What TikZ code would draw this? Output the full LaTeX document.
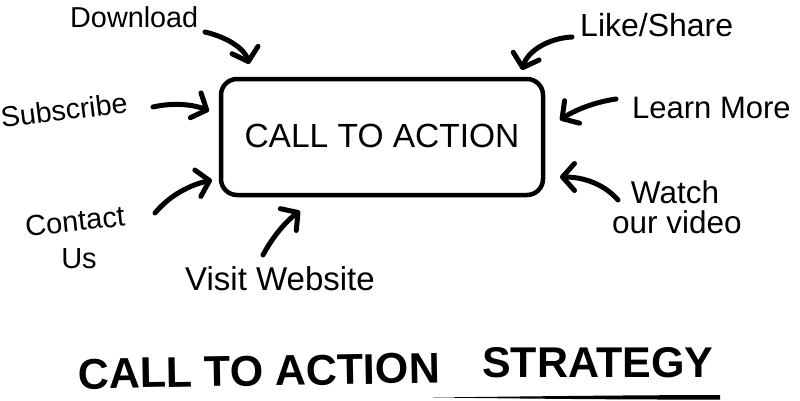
\documentclass[tikz,border=0pt]{standalone}
\usepackage{fontspec}
\setmainfont{Liberation Sans}
\usetikzlibrary{arrows.meta}
\begin{document}
\begin{tikzpicture}[x=1pt,y=1pt,
  lbl/.style={inner sep=0pt, font=\fontsize{#1}{#1}\selectfont},
  lbl/.default=30pt,
  ctabox/.style={draw, line width=4.5pt, rounded corners=16pt, minimum width=322pt, minimum height=116pt, inner sep=0pt, font=\fontsize{33.5pt}{36pt}\selectfont},
  arr/.style={line width=5pt, line cap=round, -{Straight Barb[length=12pt,width=27pt,round]}},
  ttl/.style={inner sep=0pt, font=\fontsize{43pt}{43pt}\selectfont\bfseries}]
\useasboundingbox (0,0) rectangle (800,400);
% central box
\node[ctabox] (cta) at (382,263) {\raisebox{3pt}{CALL TO ACTION}};
% labels
\node[lbl=28.8pt, anchor=base west] (dl) at (70,372) {Download};
\node[lbl=28.6pt, rotate=7] (sub) at (64,290) {Subscribe};
\node[lbl=29pt, anchor=base, rotate=6] (con) at (76,169) {Contact};
\node[lbl=29pt, anchor=base] (us) at (79,132) {Us};
\node[lbl=33pt, anchor=base west] (vis) at (185,110) {Visit Website};
\node[lbl=32pt, anchor=base west] (lik) at (580,363) {Like/Share};
\node[lbl=31pt, anchor=base west] (lea) at (632,282) {Learn More};
\node[lbl=31.5pt, anchor=base] (wat) at (675,197) {Watch};
\node[lbl=31.5pt, anchor=base] (vid) at (677,167) {our video};
% arrow end points
\coordinate (dlA) at (205,368);  \coordinate (dlB) at (249,336);
\coordinate (subA) at (153,293); \coordinate (subB) at (209,289);
\coordinate (conA) at (155,187); \coordinate (conB) at (212,220);
\coordinate (visA) at (263,145); \coordinate (visB) at (300,189);
\coordinate (likA) at (572,363); \coordinate (likB) at (522,330);
\coordinate (leaA) at (616,301); \coordinate (leaB) at (560,280);
\coordinate (watA) at (618,200); \coordinate (watB) at (560,223);
% arrows
\draw[arr] (dlA) .. controls (230,362) and (245,350) .. (dlB);
\draw[arr] (subA) .. controls (175,298) and (195,295) .. (subB);
\draw[arr] (conA) .. controls (170,205) and (190,215) .. (conB);
\draw[arr] (visA) .. controls (272,162) and (285,178) .. (visB);
\draw[arr] (likA) .. controls (550,362) and (528,350) .. (likB);
\draw[arr] (leaA) .. controls (595,298) and (575,290) .. (leaB);
\draw[arr] (watA) .. controls (605,215) and (585,223) .. (watB);
% title
\node[ttl, anchor=base west, rotate=1] (t1) at (78,11) {CALL TO ACTION};
\node[ttl, anchor=base west] (t2) at (482,23) {STRATEGY};
\coordinate (ulA) at (433,2.5);
\coordinate (ulB) at (720,2.5);
\fill (ulA) .. controls (520,3.5) and (620,4.8) .. ([yshift=2.5pt]ulB) -- ([yshift=-2pt]ulB) .. controls (620,0.2) and (520,1.5) .. cycle;
\end{tikzpicture}
\end{document}
